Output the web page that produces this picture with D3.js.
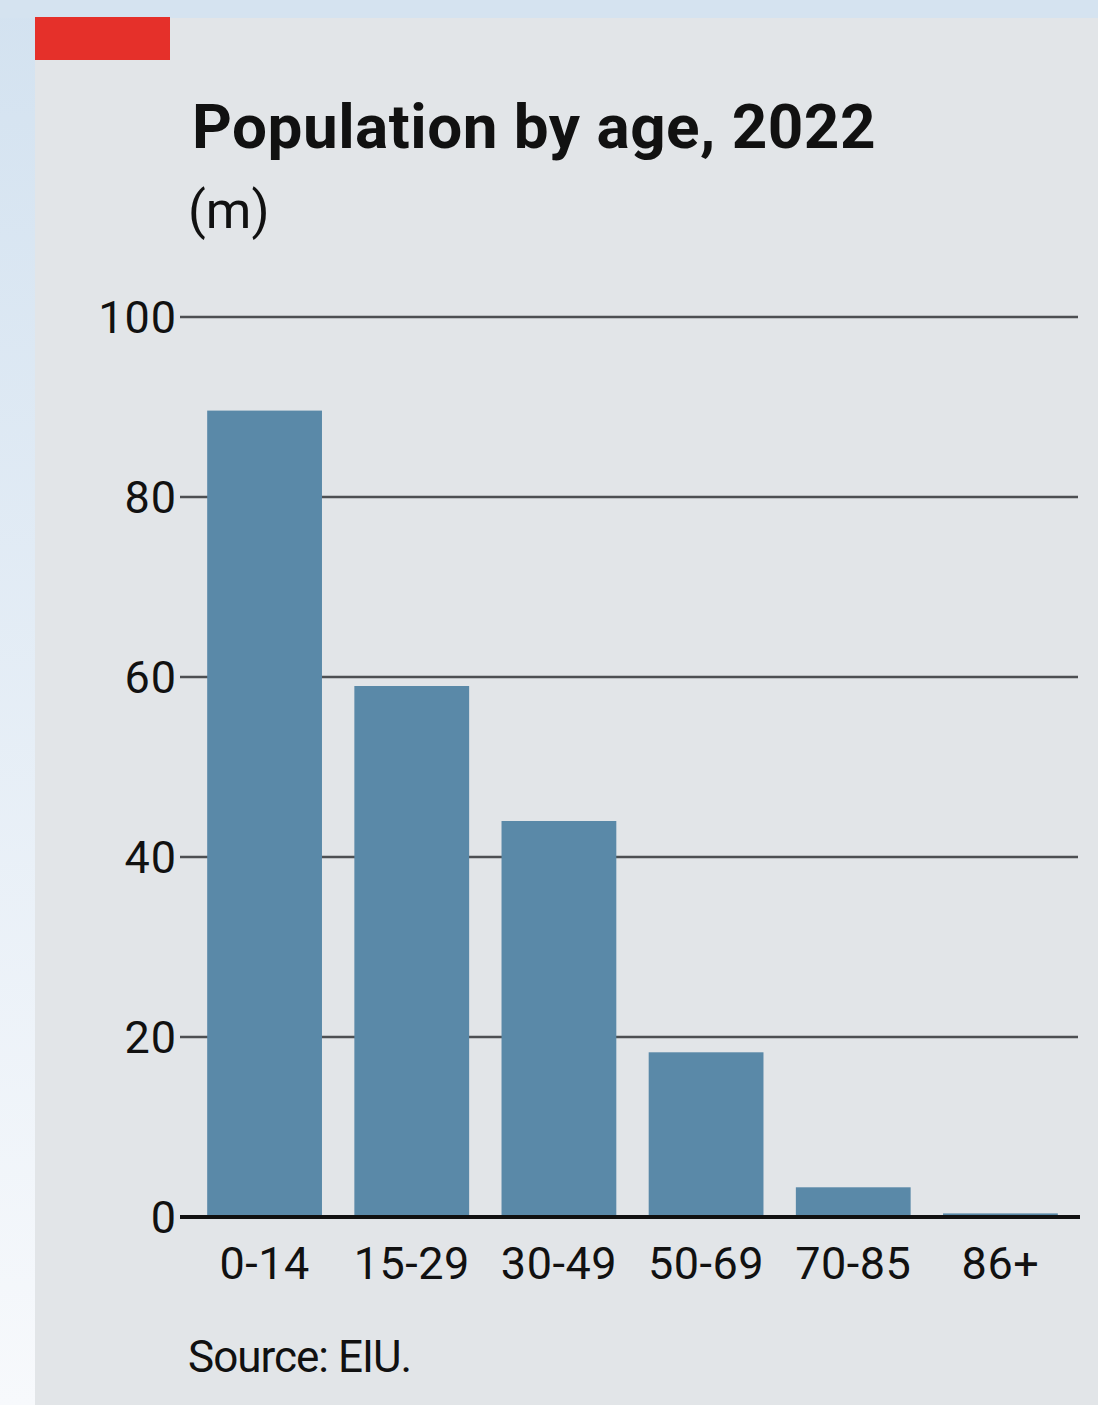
<!DOCTYPE html>
<html><head><meta charset="utf-8">
<script src="https://cdn.jsdelivr.net/npm/d3@7"></script>
<style>html,body{margin:0;padding:0;background:#fff;}svg{display:block;}</style>
</head><body>
<script>
const categories = ["0-14","15-29","30-49","50-69","70-85","86+"];
const values = [89.6, 59, 44, 18.3, 3.3, 0.4];
const yTicks = [0,20,40,60,80,100];
const title = "Population by age, 2022";
const unit = "(m)";
const source = "Source: EIU.";

const W=1098,H=1405;
const svg=d3.select("body").append("svg").attr("width",W).attr("height",H);
const defs=svg.append("defs");
const g1=defs.append("linearGradient").attr("id","bgl").attr("x1",0).attr("y1",0).attr("x2",0).attr("y2",1);
g1.append("stop").attr("offset","0%").attr("stop-color","#d3e2f0");
g1.append("stop").attr("offset","100%").attr("stop-color","#f7f9fc");
svg.append("rect").attr("width",W).attr("height",H).attr("fill","url(#bgl)");
svg.append("rect").attr("x",0).attr("y",0).attr("width",W).attr("height",18).attr("fill","#d5e3f0");
svg.append("rect").attr("x",35).attr("y",18).attr("width",W-35).attr("height",H-18).attr("fill","#e2e5e8");
svg.append("rect").attr("x",35).attr("y",17).attr("width",135).attr("height",43).attr("fill","#e5302a");

const font="Roboto, 'Open Sans', sans-serif";
svg.append("text").attr("x",192).attr("y",148).attr("font-family",font).attr("font-weight",700)
  .attr("font-size",62).attr("letter-spacing",0.5).attr("fill","#111").text(title);
svg.append("text").attr("x",188).attr("y",228).attr("font-family",font)
  .attr("font-size",52).attr("fill","#111").text(unit);

const y=d3.scaleLinear().domain([0,100]).range([1217,317]);
const x=d3.scaleBand().domain(categories).range([191,1074]).paddingInner(0.22).paddingOuter(0.11);

const yAxis=d3.axisLeft(y).tickValues(yTicks).tickSize(0).tickPadding(13).tickFormat(d3.format("d"));
const ga=svg.append("g").attr("transform","translate(190,0)").call(yAxis);
ga.select(".domain").remove();
ga.selectAll("text").attr("font-family",font).attr("font-size",45).attr("letter-spacing",1).attr("fill","#111").attr("dy","0.35em");
svg.append("g").selectAll("line").data(yTicks.filter(d=>d>0)).join("line")
  .attr("x1",180).attr("x2",1078).attr("y1",d=>y(d)).attr("y2",d=>y(d))
  .attr("stroke","#4d4f52").attr("stroke-width",2.5);

svg.append("g").selectAll("rect").data(categories).join("rect")
  .attr("x",d=>x(d)).attr("width",x.bandwidth())
  .attr("y",(d,i)=>y(values[i])).attr("height",(d,i)=>y(0)-y(values[i]))
  .attr("fill","#5a89a8");

svg.append("line").attr("x1",180).attr("x2",1080).attr("y1",y(0)).attr("y2",y(0))
  .attr("stroke","#111").attr("stroke-width",4);

const xAxis=d3.axisBottom(x).tickSize(0).tickPadding(26);
const gx=svg.append("g").attr("transform",`translate(0,${y(0)})`).call(xAxis);
gx.select(".domain").remove();
gx.selectAll("text").attr("font-family",font).attr("font-size",45).attr("letter-spacing",0.5).attr("fill","#111").attr("dy","0.8em");

svg.append("text").attr("x",188).attr("y",1372).attr("font-family",font)
  .attr("font-size",44).attr("letter-spacing",-1).attr("fill","#111").text(source);
</script>
</body></html>
